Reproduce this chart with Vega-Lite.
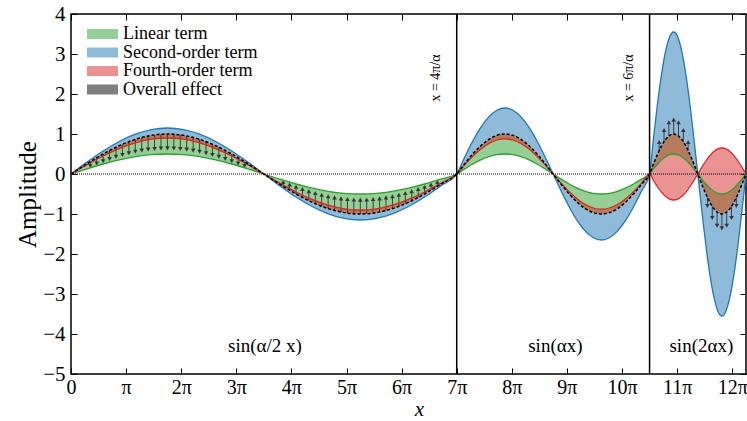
{
  "$schema": "https://vega.github.io/schema/vega-lite/v6.json",
  "width": 675,
  "height": 360,
  "autosize": {"type": "none"},
  "padding": {"left": 71, "top": 14, "right": 1, "bottom": 47},
  "config": {
    "font": "Liberation Serif",
    "view": {"stroke": "black", "strokeWidth": 1.5},
    "axis": {"grid": false, "domain": false, "tickColor": "black", "labelColor": "black", "titleColor": "black", "labelFont": "Liberation Serif", "titleFont": "Liberation Serif", "titleFontWeight": "normal", "tickWidth": 1, "labelOverlap": false},
    "legend": {"labelFont": "Liberation Serif"},
    "text": {"font": "Liberation Serif"}
  },
  "datasets": {
    "curves": [
      {"u": 0, "L": 0, "T": 0, "R": 0, "B": 0},
      {"u": 0.2917, "L": 0.1294, "T": 0.2588, "R": 0.2329, "B": 0.2976},
      {"u": 0.5833, "L": 0.25, "T": 0.5, "R": 0.45, "B": 0.575},
      {"u": 0.875, "L": 0.3536, "T": 0.7071, "R": 0.6364, "B": 0.8132},
      {"u": 1.1667, "L": 0.433, "T": 0.866, "R": 0.7794, "B": 0.9959},
      {"u": 1.4583, "L": 0.483, "T": 0.9659, "R": 0.8693, "B": 1.1108},
      {"u": 1.75, "L": 0.5, "T": 1, "R": 0.9, "B": 1.15},
      {"u": 2.0417, "L": 0.483, "T": 0.9659, "R": 0.8693, "B": 1.1108},
      {"u": 2.3333, "L": 0.433, "T": 0.866, "R": 0.7794, "B": 0.9959},
      {"u": 2.625, "L": 0.3536, "T": 0.7071, "R": 0.6364, "B": 0.8132},
      {"u": 2.9167, "L": 0.25, "T": 0.5, "R": 0.45, "B": 0.575},
      {"u": 3.2083, "L": 0.1294, "T": 0.2588, "R": 0.2329, "B": 0.2976},
      {"u": 3.5, "L": 0, "T": 0, "R": 0, "B": 0},
      {"u": 3.7917, "L": -0.1294, "T": -0.2588, "R": -0.2329, "B": -0.2976},
      {"u": 4.0833, "L": -0.25, "T": -0.5, "R": -0.45, "B": -0.575},
      {"u": 4.375, "L": -0.3536, "T": -0.7071, "R": -0.6364, "B": -0.8132},
      {"u": 4.6667, "L": -0.433, "T": -0.866, "R": -0.7794, "B": -0.9959},
      {"u": 4.9583, "L": -0.483, "T": -0.9659, "R": -0.8693, "B": -1.1108},
      {"u": 5.25, "L": -0.5, "T": -1, "R": -0.9, "B": -1.15},
      {"u": 5.5417, "L": -0.483, "T": -0.9659, "R": -0.8693, "B": -1.1108},
      {"u": 5.8333, "L": -0.433, "T": -0.866, "R": -0.7794, "B": -0.9959},
      {"u": 6.125, "L": -0.3536, "T": -0.7071, "R": -0.6364, "B": -0.8132},
      {"u": 6.4167, "L": -0.25, "T": -0.5, "R": -0.45, "B": -0.575},
      {"u": 6.7083, "L": -0.1294, "T": -0.2588, "R": -0.2329, "B": -0.2976},
      {"u": 7, "L": 0, "T": 0, "R": 0, "B": 0},
      {"u": 7.1458, "L": 0.1294, "T": 0.2588, "R": 0.2277, "B": 0.427},
      {"u": 7.2917, "L": 0.25, "T": 0.5, "R": 0.44, "B": 0.825},
      {"u": 7.4375, "L": 0.3536, "T": 0.7071, "R": 0.6222, "B": 1.1667},
      {"u": 7.5833, "L": 0.433, "T": 0.866, "R": 0.7621, "B": 1.4289},
      {"u": 7.7292, "L": 0.483, "T": 0.9659, "R": 0.85, "B": 1.5937},
      {"u": 7.875, "L": 0.5, "T": 1, "R": 0.88, "B": 1.65},
      {"u": 8.0208, "L": 0.483, "T": 0.9659, "R": 0.85, "B": 1.5937},
      {"u": 8.1667, "L": 0.433, "T": 0.866, "R": 0.7621, "B": 1.4289},
      {"u": 8.3125, "L": 0.3536, "T": 0.7071, "R": 0.6222, "B": 1.1667},
      {"u": 8.4583, "L": 0.25, "T": 0.5, "R": 0.44, "B": 0.825},
      {"u": 8.6042, "L": 0.1294, "T": 0.2588, "R": 0.2277, "B": 0.427},
      {"u": 8.75, "L": 0, "T": 0, "R": 0, "B": 0},
      {"u": 8.8958, "L": -0.1294, "T": -0.2588, "R": -0.2277, "B": -0.427},
      {"u": 9.0417, "L": -0.25, "T": -0.5, "R": -0.44, "B": -0.825},
      {"u": 9.1875, "L": -0.3536, "T": -0.7071, "R": -0.6222, "B": -1.1667},
      {"u": 9.3333, "L": -0.433, "T": -0.866, "R": -0.7621, "B": -1.4289},
      {"u": 9.4792, "L": -0.483, "T": -0.9659, "R": -0.85, "B": -1.5937},
      {"u": 9.625, "L": -0.5, "T": -1, "R": -0.88, "B": -1.65},
      {"u": 9.7708, "L": -0.483, "T": -0.9659, "R": -0.85, "B": -1.5937},
      {"u": 9.9167, "L": -0.433, "T": -0.866, "R": -0.7621, "B": -1.4289},
      {"u": 10.0625, "L": -0.3536, "T": -0.7071, "R": -0.6222, "B": -1.1667},
      {"u": 10.2083, "L": -0.25, "T": -0.5, "R": -0.44, "B": -0.825},
      {"u": 10.3542, "L": -0.1294, "T": -0.2588, "R": -0.2277, "B": -0.427},
      {"u": 10.5, "L": 0, "T": 0, "R": 0, "B": 0},
      {"u": 10.5729, "L": 0.1294, "T": 0.2588, "R": -0.1682, "B": 0.9187},
      {"u": 10.6458, "L": 0.25, "T": 0.5, "R": -0.325, "B": 1.775},
      {"u": 10.7188, "L": 0.3536, "T": 0.7071, "R": -0.4596, "B": 2.5102},
      {"u": 10.7917, "L": 0.433, "T": 0.866, "R": -0.5629, "B": 3.0743},
      {"u": 10.8646, "L": 0.483, "T": 0.9659, "R": -0.6278, "B": 3.4289},
      {"u": 10.9375, "L": 0.5, "T": 1, "R": -0.65, "B": 3.55},
      {"u": 11.0104, "L": 0.483, "T": 0.9659, "R": -0.6278, "B": 3.4289},
      {"u": 11.0833, "L": 0.433, "T": 0.866, "R": -0.5629, "B": 3.0743},
      {"u": 11.1563, "L": 0.3536, "T": 0.7071, "R": -0.4596, "B": 2.5102},
      {"u": 11.2292, "L": 0.25, "T": 0.5, "R": -0.325, "B": 1.775},
      {"u": 11.3021, "L": 0.1294, "T": 0.2588, "R": -0.1682, "B": 0.9187},
      {"u": 11.375, "L": 0, "T": 0, "R": 0, "B": 0},
      {"u": 11.4479, "L": -0.1294, "T": -0.2588, "R": 0.1682, "B": -0.9187},
      {"u": 11.5208, "L": -0.25, "T": -0.5, "R": 0.325, "B": -1.775},
      {"u": 11.5938, "L": -0.3536, "T": -0.7071, "R": 0.4596, "B": -2.5102},
      {"u": 11.6667, "L": -0.433, "T": -0.866, "R": 0.5629, "B": -3.0743},
      {"u": 11.7396, "L": -0.483, "T": -0.9659, "R": 0.6278, "B": -3.4289},
      {"u": 11.8125, "L": -0.5, "T": -1, "R": 0.65, "B": -3.55},
      {"u": 11.8854, "L": -0.483, "T": -0.9659, "R": 0.6278, "B": -3.4289},
      {"u": 11.9583, "L": -0.433, "T": -0.866, "R": 0.5629, "B": -3.0743},
      {"u": 12.0313, "L": -0.3536, "T": -0.7071, "R": 0.4596, "B": -2.5102},
      {"u": 12.1042, "L": -0.25, "T": -0.5, "R": 0.325, "B": -1.775},
      {"u": 12.1771, "L": -0.1294, "T": -0.2588, "R": 0.1682, "B": -0.9187},
      {"u": 12.25, "L": 0, "T": 0, "R": 0, "B": 0}
    ],
    "arrows": [
      {"u": 0.35, "base": 0.309, "tip": 0.1978},
      {"u": 0.4667, "base": 0.4067, "tip": 0.2603},
      {"u": 0.5833, "base": 0.5, "tip": 0.32},
      {"u": 0.7, "base": 0.5878, "tip": 0.3762},
      {"u": 0.8167, "base": 0.6691, "tip": 0.4282},
      {"u": 0.9333, "base": 0.7431, "tip": 0.4756},
      {"u": 1.05, "base": 0.809, "tip": 0.5178},
      {"u": 1.1667, "base": 0.866, "tip": 0.5542},
      {"u": 1.2833, "base": 0.9135, "tip": 0.5846},
      {"u": 1.4, "base": 0.9511, "tip": 0.6087},
      {"u": 1.5167, "base": 0.9781, "tip": 0.626},
      {"u": 1.6333, "base": 0.9945, "tip": 0.6365},
      {"u": 1.75, "base": 1, "tip": 0.64},
      {"u": 1.8667, "base": 0.9945, "tip": 0.6365},
      {"u": 1.9833, "base": 0.9781, "tip": 0.626},
      {"u": 2.1, "base": 0.9511, "tip": 0.6087},
      {"u": 2.2167, "base": 0.9135, "tip": 0.5846},
      {"u": 2.3333, "base": 0.866, "tip": 0.5542},
      {"u": 2.45, "base": 0.809, "tip": 0.5178},
      {"u": 2.5667, "base": 0.7431, "tip": 0.4756},
      {"u": 2.6833, "base": 0.6691, "tip": 0.4282},
      {"u": 2.8, "base": 0.5878, "tip": 0.3762},
      {"u": 2.9167, "base": 0.5, "tip": 0.32},
      {"u": 3.0333, "base": 0.4067, "tip": 0.2603},
      {"u": 3.15, "base": 0.309, "tip": 0.1978},
      {"u": 3.85, "base": -0.309, "tip": -0.1978},
      {"u": 3.9667, "base": -0.4067, "tip": -0.2603},
      {"u": 4.0833, "base": -0.5, "tip": -0.32},
      {"u": 4.2, "base": -0.5878, "tip": -0.3762},
      {"u": 4.3167, "base": -0.6691, "tip": -0.4282},
      {"u": 4.4333, "base": -0.7431, "tip": -0.4756},
      {"u": 4.55, "base": -0.809, "tip": -0.5178},
      {"u": 4.6667, "base": -0.866, "tip": -0.5542},
      {"u": 4.7833, "base": -0.9135, "tip": -0.5846},
      {"u": 4.9, "base": -0.9511, "tip": -0.6087},
      {"u": 5.0167, "base": -0.9781, "tip": -0.626},
      {"u": 5.1333, "base": -0.9945, "tip": -0.6365},
      {"u": 5.25, "base": -1, "tip": -0.64},
      {"u": 5.3667, "base": -0.9945, "tip": -0.6365},
      {"u": 5.4833, "base": -0.9781, "tip": -0.626},
      {"u": 5.6, "base": -0.9511, "tip": -0.6087},
      {"u": 5.7167, "base": -0.9135, "tip": -0.5846},
      {"u": 5.8333, "base": -0.866, "tip": -0.5542},
      {"u": 5.95, "base": -0.809, "tip": -0.5178},
      {"u": 6.0667, "base": -0.7431, "tip": -0.4756},
      {"u": 6.1833, "base": -0.6691, "tip": -0.4282},
      {"u": 6.3, "base": -0.5878, "tip": -0.3762},
      {"u": 6.4167, "base": -0.5, "tip": -0.32},
      {"u": 6.5333, "base": -0.4067, "tip": -0.2603},
      {"u": 6.65, "base": -0.309, "tip": -0.1978},
      {"u": 10.675, "base": 0.5878, "tip": 0.7994},
      {"u": 10.7625, "base": 0.809, "tip": 1.1002},
      {"u": 10.85, "base": 0.9511, "tip": 1.2935},
      {"u": 10.9375, "base": 1, "tip": 1.36},
      {"u": 11.025, "base": 0.9511, "tip": 1.2935},
      {"u": 11.1125, "base": 0.809, "tip": 1.1002},
      {"u": 11.2, "base": 0.5878, "tip": 0.7994},
      {"u": 11.55, "base": -0.5878, "tip": -0.7994},
      {"u": 11.6375, "base": -0.809, "tip": -1.1002},
      {"u": 11.725, "base": -0.9511, "tip": -1.2935},
      {"u": 11.8125, "base": -1, "tip": -1.36},
      {"u": 11.9, "base": -0.9511, "tip": -1.2935},
      {"u": 11.9875, "base": -0.809, "tip": -1.1002},
      {"u": 12.075, "base": -0.5878, "tip": -0.7994}
    ],
    "marks": [
      {"u": 7, "ly": 2.4, "lu": 6.62, "lab": "x = 4π/α"},
      {"u": 10.5, "ly": 2.4, "lu": 10.12, "lab": "x = 6π/α"}
    ],
    "regions": [
      {"u": 3.52, "y": -4.3, "lab": "sin(α/2 x)"},
      {"u": 8.79, "y": -4.3, "lab": "sin(αx)"},
      {"u": 11.44, "y": -4.3, "lab": "sin(2αx)"}
    ]
  },
  "resolve": {"axis": {"x": "independent", "y": "independent"}},
  "layer": [
    {
      "layer": [
        {
          "data": {"name": "curves"},
          "mark": {"type": "area", "interpolate": "monotone", "fillOpacity": 0.5},
          "encoding": {
            "x": {"field": "u", "type": "quantitative", "scale": {"domain": [0, 12.25], "nice": false, "zero": false}, "axis": null},
            "y": {"field": "L", "type": "quantitative", "scale": {"domain": [-5, 4], "nice": false, "zero": false}, "axis": null},
            "y2": {"field": "T"},
            "color": {"datum": "Linear term", "type": "nominal",
              "scale": {"domain": ["Linear term", "Second-order term", "Fourth-order term", "Overall effect"], "range": ["#2ca02c", "#1f77b4", "#d62728", "#000000"]},
              "legend": {"title": null, "orient": "none", "legendX": 22.5, "legendY": 11, "padding": 0, "rowPadding": 0.5, "symbolType": "M-1.72,-0.556H1.72V0.556H-1.72Z", "symbolSize": 324, "symbolOpacity": 0.5, "symbolStrokeWidth": 0, "labelFont": "Liberation Serif", "labelFontSize": 18, "labelOffset": 11.5, "labelColor": "black"}}
          }
        },
        {
          "data": {"name": "curves"},
          "mark": {"type": "area", "interpolate": "monotone", "fillOpacity": 0.5},
          "encoding": {
            "x": {"field": "u", "type": "quantitative", "axis": null},
            "y": {"field": "T", "type": "quantitative", "axis": null},
            "y2": {"field": "B"},
            "color": {"datum": "Second-order term", "type": "nominal"}
          }
        },
        {
          "data": {"name": "curves"},
          "mark": {"type": "area", "interpolate": "monotone", "fillOpacity": 0.5},
          "encoding": {
            "x": {"field": "u", "type": "quantitative", "axis": null},
            "y": {"field": "R", "type": "quantitative", "axis": null},
            "y2": {"field": "T"},
            "color": {"datum": "Fourth-order term", "type": "nominal"}
          }
        },
        {
          "data": {"name": "curves"},
          "mark": {"type": "area", "interpolate": "monotone", "fillOpacity": 0.5},
          "encoding": {
            "x": {"field": "u", "type": "quantitative", "axis": null},
            "y": {"field": "T", "type": "quantitative", "axis": null},
            "y2": {"field": "T"},
            "color": {"datum": "Overall effect", "type": "nominal"}
          }
        },
        {
          "data": {"name": "arrows"},
          "mark": {"type": "rule", "color": "#2a2a2a", "strokeWidth": 1, "opacity": 0.85},
          "encoding": {
            "x": {"field": "u", "type": "quantitative", "axis": null},
            "y": {"field": "base", "type": "quantitative", "axis": null},
            "y2": {"field": "tip"}
          }
        },
        {
          "data": {"name": "arrows"},
          "transform": [{"filter": "datum.tip < datum.base"}],
          "mark": {"type": "point", "shape": "triangle-down", "filled": true, "size": 22, "color": "#2a2a2a", "opacity": 0.85},
          "encoding": {
            "x": {"field": "u", "type": "quantitative", "axis": null},
            "y": {"field": "tip", "type": "quantitative", "axis": null}
          }
        },
        {
          "data": {"name": "arrows"},
          "transform": [{"filter": "datum.tip > datum.base"}],
          "mark": {"type": "point", "shape": "triangle-up", "filled": true, "size": 22, "color": "#2a2a2a", "opacity": 0.85},
          "encoding": {
            "x": {"field": "u", "type": "quantitative", "axis": null},
            "y": {"field": "tip", "type": "quantitative", "axis": null}
          }
        },
        {
          "data": {"name": "curves"},
          "mark": {"type": "line", "interpolate": "monotone", "color": "#2ca02c", "strokeWidth": 1.3},
          "encoding": {"x": {"field": "u", "type": "quantitative", "axis": null}, "y": {"field": "L", "type": "quantitative", "axis": null}}
        },
        {
          "data": {"name": "curves"},
          "mark": {"type": "line", "interpolate": "monotone", "color": "#1f77b4", "strokeWidth": 1.3},
          "encoding": {"x": {"field": "u", "type": "quantitative", "axis": null}, "y": {"field": "B", "type": "quantitative", "axis": null}}
        },
        {
          "data": {"name": "curves"},
          "mark": {"type": "line", "interpolate": "monotone", "color": "#d62728", "strokeWidth": 1.3},
          "encoding": {"x": {"field": "u", "type": "quantitative", "axis": null}, "y": {"field": "R", "type": "quantitative", "axis": null}}
        },
        {
          "data": {"name": "curves"},
          "mark": {"type": "line", "interpolate": "monotone", "color": "black", "strokeWidth": 1.5, "strokeDash": [3, 2]},
          "encoding": {"x": {"field": "u", "type": "quantitative", "axis": null}, "y": {"field": "T", "type": "quantitative", "axis": null}}
        },
        {
          "data": {"values": [{}]},
          "mark": {"type": "rule", "color": "black", "strokeWidth": 1, "strokeDash": [1, 1]},
          "encoding": {"y": {"datum": 0, "type": "quantitative", "axis": null}}
        },
        {
          "data": {"name": "marks"},
          "mark": {"type": "rule", "color": "black", "strokeWidth": 1.5},
          "encoding": {"x": {"field": "u", "type": "quantitative", "axis": null}}
        },
        {
          "data": {"name": "marks"},
          "mark": {"type": "text", "angle": 270, "align": "center", "baseline": "middle", "fontSize": 14, "font": "Liberation Serif", "color": "black"},
          "encoding": {
            "x": {"field": "lu", "type": "quantitative", "axis": null},
            "y": {"field": "ly", "type": "quantitative", "axis": null},
            "text": {"field": "lab"}
          }
        },
        {
          "data": {"name": "regions"},
          "mark": {"type": "text", "align": "center", "baseline": "middle", "fontSize": 19, "font": "Liberation Serif", "color": "black"},
          "encoding": {
            "x": {"field": "u", "type": "quantitative", "axis": null},
            "y": {"field": "y", "type": "quantitative", "axis": null},
            "text": {"field": "lab"}
          }
        }
      ]
    },
    {
      "data": {"values": [{}]},
      "mark": {"type": "point", "opacity": 0},
      "encoding": {
        "x": {"datum": 0, "type": "quantitative",
          "axis": {"orient": "bottom", "values": [0,1,2,3,4,5,6,7,8,9,10,11,12], "labelExpr": "datum.value == 0 ? '0' : datum.value == 1 ? 'π' : datum.value + 'π'", "labelFont": "Liberation Serif", "labelFontSize": 20, "labelOverlap": false, "labelBound": false, "labelFlush": false, "tickSize": -6, "labelPadding": 9, "title": "x", "titleFont": "Liberation Serif", "titleFontSize": 21, "titleFontStyle": "italic", "titlePadding": 1, "titleX": 348, "titleAlign": "center"}},
        "y": {"datum": 0, "type": "quantitative",
          "axis": {"orient": "left", "values": [-5,-4,-3,-2,-1,0,1,2,3,4], "labelExpr": "datum.value < 0 ? '−' + abs(datum.value) : '' + datum.value", "labelFont": "Liberation Serif", "labelFontSize": 21, "labelOverlap": false, "labelBound": false, "labelFlush": false, "tickSize": -6, "labelPadding": 12, "title": "Amplitude", "titleFont": "Liberation Serif", "titleFontSize": 25, "titlePadding": 2}}
      }
    },
    {
      "data": {"values": [{}]},
      "mark": {"type": "point", "opacity": 0},
      "encoding": {
        "x": {"datum": 0, "type": "quantitative", "axis": {"orient": "top", "values": [0,1,2,3,4,5,6,7,8,9,10,11,12], "labels": false, "tickSize": -6, "title": null}},
        "y": {"datum": 0, "type": "quantitative", "axis": {"orient": "right", "values": [-5,-4,-3,-2,-1,0,1,2,3,4], "labels": false, "tickSize": -6, "title": null}}
      }
    }
  ]
}
